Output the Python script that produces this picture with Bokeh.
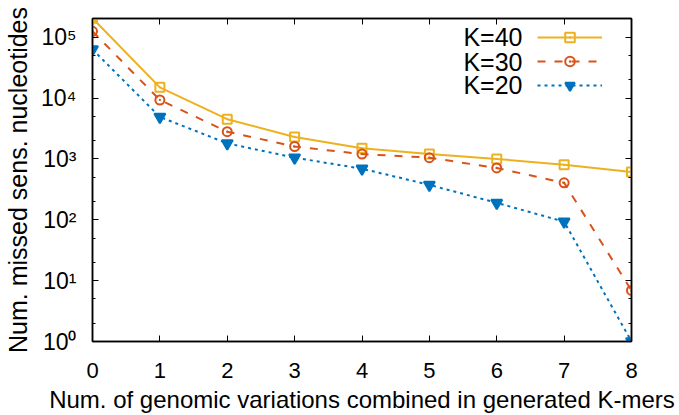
from bokeh.plotting import figure
from bokeh.models import (FixedTicker, LinearAxis, LogAxis, Range1d, Legend,
                          LegendItem, Label, CustomLabelingPolicy)
from bokeh.embed import file_html
from bokeh.resources import INLINE

# ---- data ----
x_vals = [0, 1, 2, 3, 4, 5, 6, 7, 8]
k40 = [2.05e5, 1.5e4, 4.5e3, 2.3e3, 1.5e3, 1.2e3, 1.0e3, 800, 610]
k30 = [1.25e5, 9.3e3, 2.8e3, 1.6e3, 1.2e3, 1.05e3, 710, 405, 6.9]
k20 = [6.3e4, 4.9e3, 1.8e3, 1.05e3, 690, 375, 190, 93, 1.0]
series_labels = ["K=40", "K=30", "K=20"]

x_ticks = [0, 1, 2, 3, 4, 5, 6, 7, 8]
y_ticks = [1, 10, 100, 1000, 10000, 100000]
y_tick_labels = ["10\u2070", "10\u00b9", "10\u00b2", "10\u00b3", "10\u2074", "10\u2075"]
y_minor = [2, 5, 20, 50, 200, 500, 2000, 5000, 20000, 50000]

x_label = "Num. of genomic variations combined in generated K-mers"
y_label = "Num. missed sens. nucleotides"

# ---- styling ----
colors = ["#EDB120", "#D95319", "#0072BD"]
dashes = ["solid", "8 9", "3 4"]
markers = ["square_dot", "circle_dot", "inverted_triangle"]
msizes = [9, 9, 11]
mfill = [None, None, "#0072BD"]
FONT = "Liberation Sans"

p = figure(width=679, height=415, x_range=Range1d(0, 8), y_range=Range1d(1, 2.03e5),
           y_axis_type="log", output_backend="svg", toolbar_location=None,
           min_border_left=92, min_border_right=48, min_border_top=18,
           min_border_bottom=74)
p.grid.visible = False
p.outline_line_color = "black"
p.outline_line_width = 1.5
p.background_fill_color = "white"
p.border_fill_color = "white"

xt = FixedTicker(ticks=x_ticks, minor_ticks=[])
yt = FixedTicker(ticks=y_ticks, minor_ticks=y_minor)
overrides = {float(v): s for v, s in zip(y_ticks, y_tick_labels)}

for ax in [p.xaxis[0], p.yaxis[0]]:
    ax.axis_line_color = "black"
    ax.axis_line_width = 1.5
    ax.major_tick_in = 6
    ax.major_tick_out = 0
    ax.minor_tick_in = 3
    ax.minor_tick_out = 0
    ax.major_tick_line_color = "black"
    ax.minor_tick_line_color = "black"
    ax.major_label_text_font = FONT
    ax.major_label_text_font_size = "22px"
    ax.major_label_text_color = "black"
    ax.major_label_text_line_height = 1.0
    ax.axis_label_text_font = FONT
    ax.axis_label_text_font_style = "normal"
    ax.axis_label_text_color = "black"
    ax.axis_label_text_line_height = 1.0

p.xaxis[0].ticker = xt
p.xaxis[0].axis_label = x_label
p.xaxis[0].axis_label_text_font_size = "24px"
p.xaxis[0].major_label_standoff = 21
p.xaxis[0].axis_label_standoff = 5
p.yaxis[0].ticker = yt
p.yaxis[0].major_label_overrides = overrides
p.yaxis[0].major_label_text_font_size = "23px"
p.yaxis[0].axis_label = y_label
p.yaxis[0].axis_label_text_font_size = "25px"
p.yaxis[0].major_label_standoff = 16
p.yaxis[0].axis_label_standoff = 6

NO_LABELS = """
for (const i of indices)
    indices.unset(i)
return indices
"""
top = LinearAxis(ticker=xt, major_label_policy=CustomLabelingPolicy(code=NO_LABELS),
                 major_tick_in=6, major_tick_out=0, minor_tick_line_color=None,
                 axis_line_width=1.5, major_label_standoff=0)
right = LogAxis(ticker=yt, major_label_policy=CustomLabelingPolicy(code=NO_LABELS),
                major_tick_in=6, major_tick_out=0, minor_tick_in=3, minor_tick_out=0,
                axis_line_width=1.5, major_label_standoff=0)
p.add_layout(top, "above")
p.add_layout(right, "right")

items = []
for ys, c, d, m, s, f, lab in zip([k40, k30, k20], colors, dashes, markers, msizes,
                                  mfill, series_labels):
    lr = p.line(x_vals, ys, line_color=c, line_width=2, line_dash=d)
    sr = p.scatter(x_vals, ys, marker=m, size=s, line_color=c, line_width=2,
                   fill_color=f if f else "white", fill_alpha=1 if f else 0)
    items.append(LegendItem(label=" ", renderers=[lr, sr]))

legend = Legend(items=items, location=(445, 244), glyph_width=65, glyph_height=24,
                spacing=0, padding=0, margin=0, border_line_color=None,
                background_fill_alpha=0, label_text_font_size="10px", label_standoff=0)
p.add_layout(legend)

label_y = [305, 280, 257]
for lab, ly in zip(series_labels, label_y):
    p.add_layout(Label(x=430, y=ly, x_units="screen", y_units="screen", text=lab,
                       text_align="right", text_baseline="middle",
                       text_font=FONT, text_font_size="25px", text_color="black"))

open("out.html", "w").write(file_html(p, INLINE))
